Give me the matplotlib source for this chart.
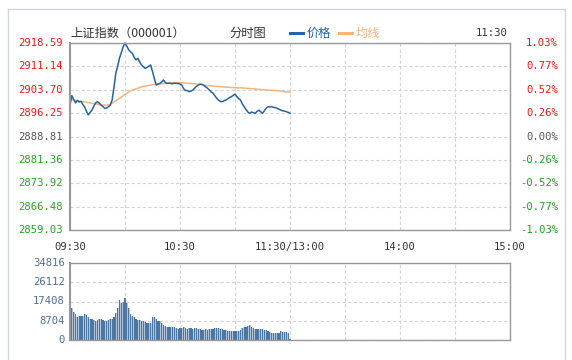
import matplotlib.pyplot as plt
from matplotlib.lines import Line2D
from matplotlib.patches import Rectangle

# minute index 0..120 = 09:30..11:30
price = [
    2898.8, 2901.8, 2900.6, 2899.5, 2900.3, 2899.8, 2900.0, 2899.0, 2898.2, 2896.8,
    2895.7, 2896.5, 2897.2, 2898.5, 2899.5, 2899.9, 2899.4, 2898.8, 2898.3, 2897.8,
    2897.9, 2898.3, 2898.8, 2900.5, 2904.5, 2909.0, 2911.2, 2913.8, 2915.5, 2917.4,
    2918.59, 2917.6, 2916.4, 2915.8, 2915.3, 2914.0, 2913.2, 2913.7, 2912.6, 2911.6,
    2911.0, 2910.5, 2910.8, 2911.2, 2911.6, 2909.5, 2907.3, 2905.2, 2905.5, 2905.7,
    2906.2, 2906.8, 2906.0, 2905.7, 2905.8, 2905.7, 2905.6, 2905.8, 2905.7, 2905.7,
    2905.5, 2905.2, 2904.0, 2903.5, 2903.4, 2903.1, 2903.3, 2903.6, 2904.2, 2904.8,
    2905.2, 2905.5, 2905.4, 2905.1, 2904.6, 2904.2, 2903.6, 2903.0, 2902.6, 2901.8,
    2901.0, 2900.4, 2900.0, 2899.9, 2900.2, 2900.4, 2900.8, 2901.2, 2901.5, 2901.9,
    2902.3, 2901.5, 2900.9, 2900.4, 2899.2, 2898.3, 2897.4, 2896.6, 2896.2, 2896.6,
    2896.4, 2896.2, 2896.8, 2897.2, 2896.7, 2896.2, 2897.0, 2897.8, 2898.3, 2898.2,
    2898.3, 2898.1, 2898.0, 2897.8, 2897.5, 2897.2, 2897.0, 2896.9, 2896.7, 2896.5,
    2896.2,
]
avg_price = [
    2900.4, 2900.5, 2900.4, 2900.3, 2900.2, 2900.1, 2900.0, 2899.9, 2899.8, 2899.7,
    2899.6, 2899.5, 2899.4, 2899.3, 2899.2, 2899.1, 2899.0, 2898.9, 2898.8, 2898.8,
    2898.8, 2898.9, 2899.1, 2899.4, 2899.8, 2900.2, 2900.6, 2901.0, 2901.4, 2901.8,
    2902.2, 2902.6, 2903.0, 2903.3, 2903.6, 2903.8, 2904.0, 2904.2, 2904.4, 2904.6,
    2904.8, 2904.9, 2905.0, 2905.1, 2905.2, 2905.3, 2905.4, 2905.5, 2905.5, 2905.6,
    2905.6, 2905.7, 2905.7, 2905.8, 2905.8, 2905.9, 2905.9, 2906.0, 2906.0, 2906.0,
    2906.0, 2905.9, 2905.9, 2905.8, 2905.8, 2905.7, 2905.7, 2905.6, 2905.6, 2905.5,
    2905.5, 2905.4, 2905.3, 2905.2, 2905.1, 2905.0, 2905.0, 2904.9, 2904.9, 2904.8,
    2904.8, 2904.7, 2904.7, 2904.6, 2904.6, 2904.5, 2904.5, 2904.5, 2904.4, 2904.4,
    2904.4, 2904.3, 2904.3, 2904.3, 2904.3, 2904.2, 2904.2, 2904.1, 2904.1, 2904.0,
    2904.0, 2903.9, 2903.9, 2903.8, 2903.8, 2903.7, 2903.7, 2903.6, 2903.6, 2903.6,
    2903.5, 2903.5, 2903.5, 2903.4, 2903.3, 2903.3, 2903.2, 2903.1, 2903.0, 2903.0,
    2902.9,
]
volume = [
    15400, 14300, 12800, 11800, 10500, 10800, 10800, 10800, 11700, 11400,
    10200, 9600, 9300, 9000, 8700, 8900, 9300, 9300, 9000, 8700,
    8700, 9000, 9300, 9600, 10500, 12400, 14300, 18100, 16600, 17300,
    18800, 16900, 14300, 11800, 10800, 10200, 9600, 9000, 9000, 8700,
    8400, 8100, 7800, 7500, 7500, 10200, 10500, 9300, 8700, 8400,
    7800, 6800, 6300, 6000, 6000, 6000, 6000, 5700, 5300, 5100,
    5400, 5600, 5700, 5400, 5100, 5400, 5300, 5100, 5400, 5300,
    5100, 4800, 4500, 4500, 4800, 4500, 4800, 4800, 5100, 5400,
    5400, 5300, 5100, 4800, 4500, 4500, 4200, 4200, 4200, 4200,
    4200, 3900, 4200, 4500, 5400, 5700, 6000, 6300, 6800, 6000,
    5400, 5100, 5100, 4800, 4800, 4800, 4500, 4500, 4200, 3600,
    3300, 3300, 3300, 3300, 3300, 3900, 3600, 3600, 3600, 3300,
    600,
]
minutes = list(range(len(price)))

price_ticks = [2918.59, 2911.14, 2903.70, 2896.25, 2888.81, 2881.36, 2873.92, 2866.48, 2859.03]
pct_labels = ["1.03%", "0.77%", "0.52%", "0.26%", "0.00%", "-0.26%", "-0.52%", "-0.77%", "-1.03%"]
prev_close = 2888.81
time_pos = [0, 60, 120, 180, 240]
time_labels = ["09:30", "10:30", "11:30/13:00", "14:00", "15:00"]
vol_ticks = [0, 8704, 17408, 26112, 34816]

RED, GREEN, GRAY = "#f01818", "#23a323", "#555555"
BLUE, ORANGE = "#2563a6", "#f6b47a"
MONO = "DejaVu Sans Mono"
CJK = ["Noto Sans CJK SC", "DejaVu Sans"]

W, H = 572, 360
fig = plt.figure(figsize=(W / 100, H / 100), dpi=100)

def box(l, t, r, b):
    return [l / W, 1 - b / H, (r - l) / W, (b - t) / H]

# outer frame
frame = "#cdd7e2"
fig.add_artist(Line2D([8 / W, 565 / W], [1 - 9 / H, 1 - 9 / H], color=frame, lw=1))
fig.add_artist(Line2D([8 / W, 8 / W], [0, 1 - 9 / H], color=frame, lw=1))
fig.add_artist(Line2D([565 / W, 565 / W], [0, 1 - 9 / H], color=frame, lw=1))

ax = fig.add_axes(box(70, 43, 510, 230))
vx = fig.add_axes(box(70, 263, 510, 340))

for a in (ax, vx):
    a.set_xlim(0, 240)
    a.set_xticks(range(0, 241, 30))
    a.tick_params(length=0, labelleft=False, labelbottom=False)
    a.grid(True, color="#d4d4d4", ls=(0, (3, 2)), lw=0.8)
    a.set_axisbelow(True)
    for s in a.spines.values():
        s.set_color("#999999")
        s.set_linewidth(1)
    a.spines["left"].set_linewidth(1.5)

# price panel
ax.set_ylim(price_ticks[-1], price_ticks[0])
ax.set_yticks(price_ticks)
ax.plot(minutes, avg_price, color=ORANGE, lw=1.1, clip_on=False)
ax.plot(minutes, price, color=BLUE, lw=1.1, clip_on=False)

for val, pct in zip(price_ticks, pct_labels):
    c = RED if val > prev_close + 0.01 else (GREEN if val < prev_close - 0.01 else GRAY)
    ax.text(-0.016, val, f"{val:.2f}", transform=ax.get_yaxis_transform(),
            ha="right", va="center", color=c, fontsize=7.6, family=MONO)
    ax.text(1.109, val, pct, transform=ax.get_yaxis_transform(),
            ha="right", va="center", color=c, fontsize=7.6, family=MONO)

for pos, lab in zip(time_pos, time_labels):
    ax.text(pos, -0.092, lab, transform=ax.get_xaxis_transform(),
            ha="center", va="center", color="#333333", fontsize=7.6, family=MONO)

# volume panel
vx.set_ylim(0, vol_ticks[-1])
vx.set_yticks(vol_ticks)
vx.bar(minutes, volume, width=1.0, color="#b3c5da", align="center")
vx.bar(minutes, volume, width=0.55, color="#4c77a3", align="center")
for v in vol_ticks:
    vx.text(-0.012, v, str(v), transform=vx.get_yaxis_transform(),
            ha="right", va="center", color="#4f6f95", fontsize=7.6, family=MONO)

# header
ty = 1 - 33 / H
fig.text(70 / W, ty, "上证指数（000001）", ha="left", va="center",
         fontsize=8.8, family=CJK, color="#333333")
fig.text(229 / W, ty, "分时图", ha="left", va="center",
         fontsize=8.8, family=CJK, color="#333333")
fig.add_artist(Line2D([290 / W, 303 / W], [ty, ty], color=BLUE, lw=2.2))
fig.text(307 / W, ty, "价格", ha="left", va="center", fontsize=8.8, family=CJK, color=BLUE)
fig.add_artist(Line2D([339 / W, 352 / W], [ty, ty], color=ORANGE, lw=2.2))
fig.text(356 / W, ty, "均线", ha="left", va="center", fontsize=8.8, family=CJK, color=ORANGE)
fig.text(508 / W, ty, "11:30", ha="right", va="center",
         fontsize=7.6, family=MONO, color="#333333")

fig.savefig("out.png", dpi=100)
